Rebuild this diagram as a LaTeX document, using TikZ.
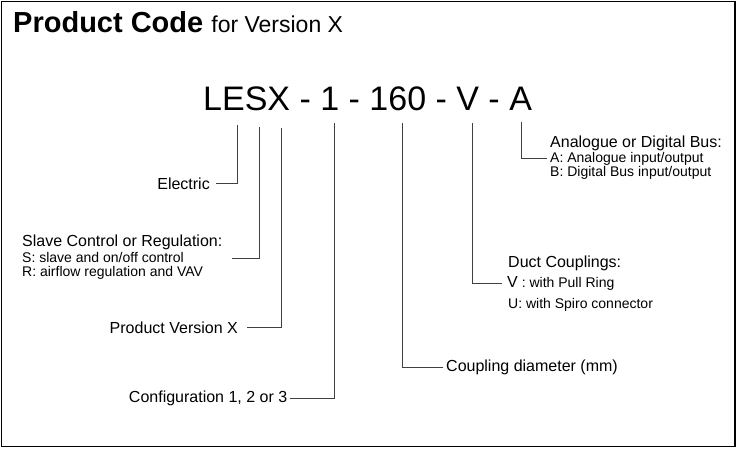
\documentclass[tikz,border=0pt]{standalone}
\usepackage{fontspec}
\setmainfont{Liberation Sans}
\begin{document}
\begin{tikzpicture}[x=1pt,y=-1pt,
  lead/.style={draw=black!75, line width=0.9pt},
  big/.style={font=\fontsize{16}{18}\selectfont, inner ysep=0pt, inner xsep=3pt},
  small/.style={font=\fontsize{14}{16}\selectfont, inner ysep=0pt, inner xsep=3pt}]
\useasboundingbox (0,0) rectangle (738,448);
\draw[line width=1.5pt] (1.5,1.5) rectangle (735,446.5);
% title and code
\node[anchor=base west, inner sep=0] (title) at (13,32.5)
  {\fontsize{29}{31}\selectfont\bfseries Product Code \fontsize{23}{25}\selectfont\mdseries for Version X};
\node[anchor=base west, inner sep=0, font=\fontsize{34}{36}\selectfont] (code) at (203,110) {LESX - 1 - 160 - V - A};
% leader starting points
\coordinate (cE) at (237,125);
\coordinate (cS) at (259,127);
\coordinate (cX) at (281,128);
\coordinate (c1) at (334,123);
\coordinate (c160) at (402,123);
\coordinate (cV) at (472,123);
\coordinate (cA) at (521,122);
% Electric
\node[big, anchor=base east, inner xsep=6pt] (elec) at (216,189) {Electric};
\draw[lead] (cE) |- (elec.east);
% Slave
\node[big, anchor=base west] (slaveH) at (19,246) {Slave Control or Regulation:};
\node[small, anchor=base west] (slaveS) at (19,262.5) {S: slave and on/off control};
\node[small, anchor=base west] (slaveR) at (19,276.5) {R: airflow regulation and VAV};
\coordinate (slaveEnd) at (232,258);
\draw[lead] (cS) |- (slaveEnd);
% Product version
\node[big, anchor=base east, inner xsep=9pt] (pvx) at (247,333) {Product Version X};
\draw[lead] (cX) |- (pvx.east);
% Configuration
\node[big, anchor=base east, inner xsep=2.5pt] (conf) at (290,402.5) {Configuration 1, 2 or 3};
\draw[lead] (c1) |- (conf.east);
% Coupling diameter
\node[big, anchor=base west] (coup) at (443,371.5) {Coupling diameter (mm)};
\draw[lead] (c160) |- (coup.west);
% Duct couplings
\node[big, anchor=base west] (ductH) at (505,267) {Duct Couplings:};
\node[anchor=base west, inner ysep=0pt, inner xsep=5pt] (ductV) at (502,287)
  {\fontsize{16}{18}\selectfont V\fontsize{14}{16}\selectfont\ : with Pull Ring};
\node[small, anchor=base west] (ductU) at (505,308) {U: with Spiro connector};
\draw[lead] (cV) |- (ductV.west);
% Analogue or digital bus
\node[big, anchor=base west] (busH) at (547,147) {Analogue or Digital Bus:};
\node[small, anchor=base west] (busA) at (547,162.5) {A: Analogue input/output};
\node[small, anchor=base west] (busB) at (547,176.5) {B: Digital Bus input/output};
\draw[lead] (cA) |- (busA.west);
\end{tikzpicture}
\end{document}
